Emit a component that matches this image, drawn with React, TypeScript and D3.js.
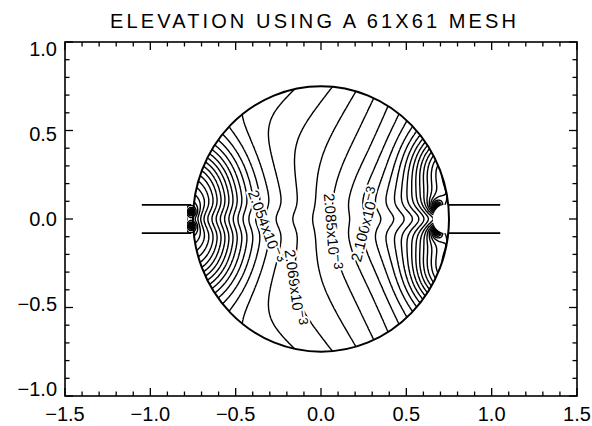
import React, { useMemo } from "react";
import * as d3 from "d3";

const W = 592;
const H = 426;
const PLOT = { left: 65, right: 577, top: 42, bottom: 396 };

const TITLE = "ELEVATION USING A 61X61 MESH";
const xMajorTicks = [-1.5, -1.0, -0.5, 0.0, 0.5, 1.0, 1.5];
const xTickLabels = ["\u22121.5", "\u22121.0", "\u22120.5", "0.0", "0.5", "1.0", "1.5"];
const yMajorTicks = [-1.0, -0.5, 0.0, 0.5, 1.0];
const yTickLabels = ["\u22121.0", "\u22120.5", "0.0", "0.5", "1.0"];

// contour levels of the free-surface elevation, in units of 10^-3
const contourLevels = [
  1.8694, 1.8771, 1.8848, 1.8925, 1.9002, 1.9079, 1.9156, 1.9232, 1.9309, 1.9386,
  1.9463, 1.954, 1.9617, 1.9694, 1.9771, 1.9848, 1.9925, 2.0002, 2.0079, 2.0155,
  2.0232, 2.0309, 2.0386, 2.0463, 2.054, 2.0617, 2.0694, 2.0771, 2.0848, 2.0925,
  2.1001, 2.1078, 2.1155, 2.1232, 2.1309, 2.1386, 2.1463, 2.154, 2.1617, 2.1694,
  2.1771, 2.1848, 2.1924, 2.2001, 2.2078, 2.2155, 2.2232, 2.2309, 2.2386, 2.2463,
  2.254, 2.2617, 2.2694, 2.2771, 2.2847, 2.2924, 2.3001, 2.3078, 2.3155, 2.3232,
  2.3309, 2.3386, 2.3463, 2.354, 2.3617,
];
// every other level carries a printed label; these four are printed
const labeledLevels = [2.054, 2.0694, 2.0848, 2.1001];
const labelAnchors: [number, number][] = [
  [-0.47, -0.1],
  [-0.03, -0.37],
  [0.05, -0.07],
  [0.26, -0.03],
];

// basin geometry (data units)
const basinRadius = 0.75;
const channelHalfWidth = 0.08;
const inletChannel = [-1.05, -0.76];
const outletChannel = [0.7457, 1.05];
const inletMouth = -0.785;
const outletTip = 0.655;
const outletShoulder = 0.73;

// surface model, in half contour intervals about the 2.054 level
const BASE = 2.054;
const HALF_STEP = 0.0076915;
const trendCoef = [3.3, 5.0, 4.0, 4.0];
const crossCurvature = 3.0;
const axisSlope = 5.0;
const axisBand = 0.3;
const flankLows: [number, number][] = [
  [-0.75, 0.2],
  [-0.75, -0.2],
];
const lowDepth = 9;
const lowSpread = 0.19;
const flankHighs: [number, number][] = [
  [0.72, 0.3],
  [0.72, -0.3],
];
const highHeight = 7;
const highSpread = 0.14;
const inletLips: [number, number][] = [
  [-0.76, 0.04],
  [-0.76, -0.04],
];
const inletStrength = 4;
const inletReach = 0.06;
const outletLips: [number, number][] = [
  [0.68, 0.07],
  [0.68, -0.07],
];
const outletStrength = 5;
const outletReach = 0.08;
const jetStrength = 3;
const jetWidth = 0.07;
const jetLength = 0.3;
const troughDepth = 4;
const troughWidth = 0.07;
const troughLength = 0.2;
const troughEnd = 0.66;

function elevation(x: number, y: number): number {
  const [c0, c1, c2, c3] = trendCoef;
  let s = c0 + c1 * x + c2 * x * x + c3 * x * x * x - crossCurvature * y * y;
  s += axisSlope * x * Math.exp(-((y / axisBand) ** 2));
  for (const [lx, ly] of flankLows) {
    const d2 = (x - lx) ** 2 + (y - ly) ** 2;
    s -= lowDepth * Math.exp(-d2 / (2 * lowSpread * lowSpread));
  }
  for (const [hx, hy] of flankHighs) {
    const d2 = (x - hx) ** 2 + (y - hy) ** 2;
    s += highHeight * Math.exp(-d2 / (2 * highSpread * highSpread));
  }
  for (const [lx, ly] of inletLips) {
    const r2 = (x - lx) ** 2 + (y - ly) ** 2 + 1e-6;
    s += inletStrength * 0.5 * Math.log(r2 / (r2 + inletReach * inletReach));
  }
  for (const [ox, oy] of outletLips) {
    const r2 = (x - ox) ** 2 + (y - oy) ** 2 + 1e-6;
    s -= outletStrength * 0.5 * Math.log(r2 / (r2 + outletReach * outletReach));
  }
  s += jetStrength * Math.exp(-((y / jetWidth) ** 2)) * Math.exp(-Math.max(0, x - inletLips[0][0]) / jetLength);
  s -= troughDepth * Math.exp(-((y / troughWidth) ** 2)) * Math.exp(-Math.max(0, troughEnd - x) / troughLength);
  return BASE + HALF_STEP * s;
}

const FONT = "'Liberation Sans', Arial, sans-serif";

export default function App() {
  const xs = d3.scaleLinear().domain([-1.5, 1.5]).range([PLOT.left, PLOT.right]);
  const ys = d3.scaleLinear().domain([-1, 1]).range([PLOT.bottom, PLOT.top]);

  const { paths, labels } = useMemo(() => {
    const n = 400;
    const m = 400;
    const gx0 = -0.8;
    const gx1 = 0.8;
    const gy0 = -0.8;
    const gy1 = 0.8;
    const dx = (gx1 - gx0) / n;
    const dy = (gy1 - gy0) / m;
    const values: number[] = new Array(n * m);
    for (let j = 0; j < m; j++) {
      for (let i = 0; i < n; i++) {
        values[i + j * n] = elevation(gx0 + (i + 0.5) * dx, gy1 - (j + 0.5) * dy);
      }
    }
    const geoms = d3.contours().size([n, m]).thresholds(contourLevels)(values);
    const toData = (p: number[]) => [gx0 + p[0] * dx, gy1 - p[1] * dy];
    const toPx = (p: number[]) => {
      const d = toData(p);
      return [xs(d[0]), ys(d[1])];
    };
    const paths = geoms.map((g) => ({
      value: g.value,
      d: g.coordinates
        .map((poly) =>
          poly
            .map((ring) => "M" + ring.map((p) => toPx(p).map((v) => v.toFixed(1)).join(",")).join("L") + "Z")
            .join("")
        )
        .join(""),
    }));

    const labels = labeledLevels.map((lv, k) => {
      const g = geoms.find((gg) => Math.abs(gg.value - lv) < 1e-4)!;
      const anchor = [xs(labelAnchors[k][0]), ys(labelAnchors[k][1])];
      let best = { dist: Infinity, ring: [] as number[][], idx: 0 };
      for (const poly of g.coordinates) {
        for (const ring of poly) {
          const pts = ring.map(toPx);
          pts.forEach((p, idx) => {
            const dd = toData(ring[idx]);
            if (Math.hypot(dd[0], dd[1]) > basinRadius - 0.05) return;
            const dist = Math.hypot(p[0] - anchor[0], p[1] - anchor[1]);
            if (dist < best.dist) best = { dist, ring: pts, idx };
          });
        }
      }
      const pts = best.ring;
      const a = pts[Math.max(0, best.idx - 6)];
      const b = pts[Math.min(pts.length - 1, best.idx + 6)];
      let ang = (Math.atan2(b[1] - a[1], b[0] - a[0]) * 180) / Math.PI;
      if (ang > 90) ang -= 180;
      if (ang <= -90) ang += 180;
      return { x: pts[best.idx][0], y: pts[best.idx][1], angle: ang, text: lv.toFixed(3) };
    });
    return { paths, labels };
  }, []);

  const cx = xs(0);
  const cy = ys(0);
  const rx = xs(basinRadius) - xs(0);
  const ry = ys(-basinRadius) - ys(0);
  const chTop = ys(channelHalfWidth);
  const chBot = ys(-channelHalfWidth);
  const notchRx = xs(outletShoulder) - xs(outletTip);
  const notchRy = (chBot - chTop) / 2;

  const xMinor = xs.ticks(30);
  const yMinor = ys.ticks(20);
  const isMajor = (v: number) => Math.abs(v * 2 - Math.round(v * 2)) < 1e-6;

  return (
    <svg width={W} height={H} style={{ display: "block", position: "absolute", left: 0, top: 0, background: "#fff" }}>
      <defs>
        <mask id="basinMask" maskUnits="userSpaceOnUse" x={0} y={0} width={W} height={H}>
          <rect x={0} y={0} width={W} height={H} fill="black" />
          <ellipse cx={cx} cy={cy} rx={rx} ry={ry} fill="white" />
          <rect x={xs(inletMouth)} y={chTop} width={xs(-0.7) - xs(inletMouth)} height={chBot - chTop} fill="white" />
          <path
            d={`M${xs(outletShoulder)},${chTop} A${notchRx},${notchRy} 0 0 0 ${xs(outletShoulder)},${chBot} L${W},${chBot} L${W},${chTop} Z`}
            fill="black"
          />
        </mask>
      </defs>

      <text x={313} y={21} textAnchor="middle" dominantBaseline="central" fontFamily={FONT} fontSize={20} textLength={406} lengthAdjust="spacing">
        {TITLE}
      </text>

      {/* contour lines */}
      <g mask="url(#basinMask)" fill="none" stroke="#000" strokeWidth={1.4} strokeLinejoin="round">
        {paths.map((p, i) => (
          <path key={i} d={p.d} />
        ))}
      </g>

      {/* basin wall and channels */}
      <ellipse cx={cx} cy={cy} rx={rx} ry={ry} fill="none" stroke="#000" strokeWidth={2} />
      <g stroke="#000" strokeWidth={1.6}>
        <line x1={xs(inletChannel[0])} x2={xs(inletChannel[1])} y1={chTop} y2={chTop} />
        <line x1={xs(inletChannel[0])} x2={xs(inletChannel[1])} y1={chBot} y2={chBot} />
        <line x1={xs(outletChannel[0])} x2={xs(outletChannel[1])} y1={chTop} y2={chTop} />
        <line x1={xs(outletChannel[0])} x2={xs(outletChannel[1])} y1={chBot} y2={chBot} />
      </g>

      {/* contour labels */}
      {labels.map((l, i) => (
        <text
          key={i}
          transform={`translate(${l.x},${l.y}) rotate(${l.angle})`}
          textAnchor="middle"
          dominantBaseline="central"
          fontFamily={FONT}
          fontSize={15}
          stroke="#fff"
          strokeWidth={4}
          paintOrder="stroke"
          fill="#000"
        >
          {l.text}x10
          <tspan dy={-4} fontSize={13}>
            {"\u22123"}
          </tspan>
        </text>
      ))}

      {/* frame and ticks */}
      <rect x={PLOT.left} y={PLOT.top} width={PLOT.right - PLOT.left} height={PLOT.bottom - PLOT.top} fill="none" stroke="#000" strokeWidth={1.6} />
      <g stroke="#000" strokeWidth={1.3}>
        {xMinor.map((v, i) => {
          const len = isMajor(v) ? 8 : 4.5;
          return (
            <g key={i}>
              <line x1={xs(v)} x2={xs(v)} y1={PLOT.bottom} y2={PLOT.bottom - len} />
              <line x1={xs(v)} x2={xs(v)} y1={PLOT.top} y2={PLOT.top + len} />
            </g>
          );
        })}
        {yMinor.map((v, i) => {
          const len = isMajor(v) ? 8 : 4.5;
          return (
            <g key={i}>
              <line x1={PLOT.left} x2={PLOT.left + len} y1={ys(v)} y2={ys(v)} />
              <line x1={PLOT.right} x2={PLOT.right - len} y1={ys(v)} y2={ys(v)} />
            </g>
          );
        })}
      </g>
      <g fontFamily={FONT} fontSize={20} fill="#000">
        {xMajorTicks.map((v, i) => (
          <text key={i} x={xs(v)} y={414} textAnchor="middle" dominantBaseline="central">
            {xTickLabels[i]}
          </text>
        ))}
        {yMajorTicks.map((v, i) => (
          <text key={i} x={57} y={ys(v) + 7 * v} textAnchor="end" dominantBaseline="central">
            {yTickLabels[i]}
          </text>
        ))}
      </g>
    </svg>
  );
}
